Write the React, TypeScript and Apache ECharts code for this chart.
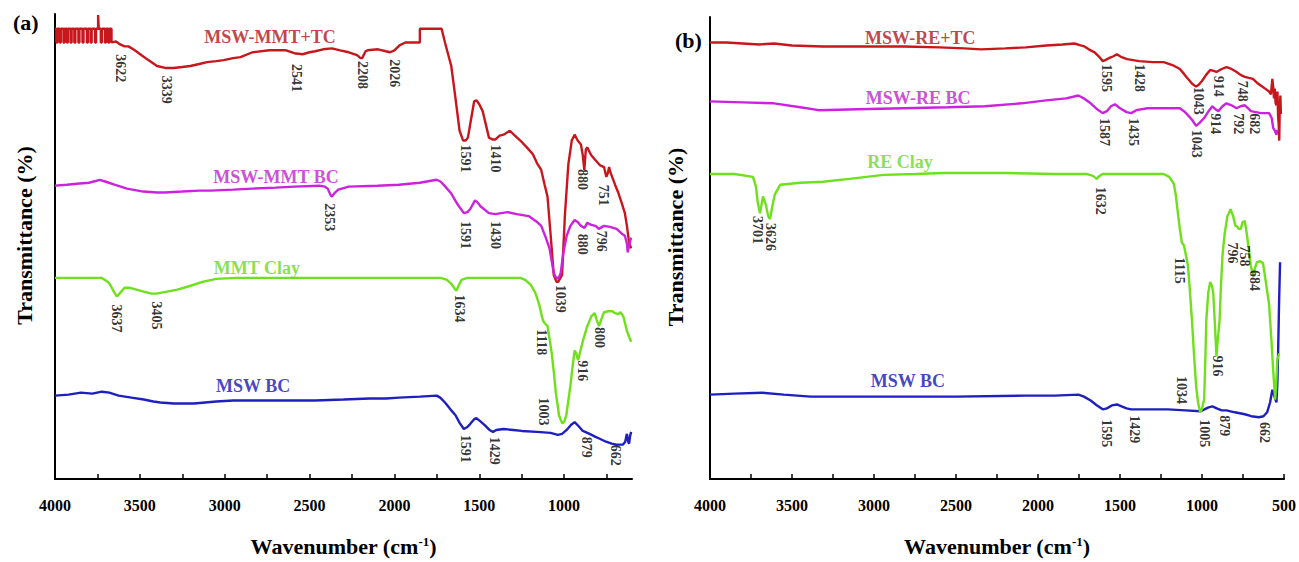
import React, { useEffect, useRef } from "react";
import * as echarts from "echarts";

type P = [number, number];

// ---------- Panel (a) spectra: [wavenumber, transmittance (arb. offset units)] ----------
const mswMmtTc: P[] = [
  [4000, 459], [3992, 459], [3992, 445], [3986, 445], [3986, 459], [3972, 459], [3972, 445], [3966, 445], [3966, 459],
  [3950, 459], [3950, 445], [3944, 445], [3944, 459], [3930, 459], [3930, 445], [3924, 445], [3924, 459],
  [3908, 459], [3908, 445], [3902, 445], [3902, 459], [3886, 459], [3886, 445], [3880, 445], [3880, 459],
  [3862, 459], [3862, 445], [3856, 445], [3856, 459], [3838, 459], [3838, 445], [3832, 445], [3832, 459],
  [3812, 459], [3812, 445], [3806, 445], [3806, 459], [3790, 459], [3790, 445], [3784, 445], [3784, 459],
  [3764, 459], [3764, 445], [3758, 445], [3758, 459], [3746, 459], [3746, 473], [3742, 473], [3742, 459],
  [3730, 459], [3730, 445], [3724, 445], [3724, 459], [3706, 459], [3706, 445], [3700, 445], [3700, 459],
  [3686, 459], [3686, 445], [3680, 445], [3680, 459], [3667, 459], [3667, 445],
  [3640, 446], [3616, 443], [3590, 441], [3567, 441], [3530, 437], [3498, 433], [3450, 427], [3399, 421],
  [3350, 419], [3301, 419], [3250, 420], [3203, 421], [3150, 423], [3104, 425], [3050, 426], [3006, 427],
  [2950, 429], [2907, 430], [2836, 435], [2738, 437], [2639, 437], [2590, 434], [2541, 433], [2500, 435],
  [2467, 436], [2420, 438], [2368, 439], [2320, 437], [2269, 435], [2220, 432], [2200, 429], [2190, 429],
  [2170, 436], [2158, 437], [2097, 438], [2050, 436], [2026, 435], [2000, 437], [1970, 442], [1936, 445],
  [1850, 445], [1850, 459], [1722, 459], [1702, 445], [1665, 421], [1640, 388], [1616, 355], [1595, 345],
  [1580, 345], [1567, 348], [1545, 370], [1530, 385], [1517, 386], [1500, 382], [1480, 375], [1443, 348],
  [1420, 346], [1406, 346], [1380, 350], [1357, 351], [1320, 355], [1290, 350], [1258, 345], [1220, 338],
  [1184, 331], [1160, 322], [1135, 315], [1115, 300], [1098, 288], [1080, 250], [1061, 208], [1045, 201],
  [1035, 201], [1012, 208], [995, 270], [975, 321], [955, 345], [938, 351], [920, 345], [901, 341],
  [890, 330], [881, 315], [872, 336], [864, 338], [840, 330], [815, 325], [790, 320], [765, 318], [751, 308],
  [742, 312], [735, 318], [728, 313], [700, 300], [679, 291], [660, 281], [642, 271], [630, 258], [617, 241],
  [605, 235],
];

const mswMmtBc: P[] = [
  [4000, 299], [3930, 300], [3872, 301], [3800, 302], [3736, 305], [3700, 303], [3650, 300], [3576, 296],
  [3480, 293], [3400, 292], [3354, 292], [3250, 293], [3150, 294], [3083, 294], [2950, 295], [2836, 296],
  [2700, 297], [2590, 298], [2442, 299], [2410, 298], [2393, 296], [2375, 289], [2368, 288], [2350, 292],
  [2331, 295], [2269, 298], [2100, 299], [1973, 300], [1850, 302], [1751, 305], [1727, 303], [1700, 298],
  [1665, 291], [1628, 280], [1591, 271], [1570, 272], [1554, 275], [1525, 284], [1510, 282], [1493, 278],
  [1443, 271], [1406, 270], [1370, 271], [1332, 272], [1280, 270], [1209, 268], [1160, 262], [1135, 258],
  [1110, 247], [1086, 235], [1061, 210], [1050, 206], [1035, 204], [1020, 210], [1005, 230], [985, 248],
  [963, 258], [938, 264], [920, 262], [901, 258], [880, 256], [864, 261], [840, 259], [815, 258], [796, 255],
  [765, 258], [730, 257], [691, 255], [660, 250], [642, 248], [630, 240], [625, 231], [615, 240], [605, 246],
];

const mmtClay: P[] = [
  [4000, 205], [3800, 205], [3724, 205], [3690, 201], [3675, 198], [3650, 190], [3635, 186], [3615, 190],
  [3590, 195], [3564, 195], [3520, 193], [3477, 191], [3430, 189], [3403, 189], [3340, 191], [3280, 193],
  [3200, 197], [3132, 201], [3050, 204], [2935, 205], [2500, 205], [2000, 205], [1727, 205], [1690, 203],
  [1665, 199], [1645, 194], [1635, 192], [1622, 197], [1604, 203], [1570, 205], [1258, 205], [1230, 203],
  [1197, 198], [1170, 190], [1147, 178], [1130, 165], [1123, 161], [1110, 158], [1098, 156], [1085, 142],
  [1073, 128], [1060, 108], [1049, 88], [1030, 65], [1012, 57], [1000, 58], [987, 65], [975, 80], [963, 95],
  [950, 115], [938, 131], [928, 128], [918, 121], [905, 130], [889, 141], [865, 155], [839, 166], [820, 169],
  [808, 162], [795, 156], [780, 163], [765, 170], [740, 171], [716, 171], [700, 169], [679, 168], [667, 170],
  [650, 165], [640, 158], [630, 151], [615, 144], [605, 140],
];

const mswBcA: P[] = [
  [4000, 85], [3920, 86], [3847, 88], [3780, 87], [3724, 89], [3680, 88], [3625, 85], [3550, 83], [3477, 81],
  [3420, 79], [3379, 78], [3300, 77], [3181, 77], [3050, 79], [2950, 80], [2836, 80], [2650, 80], [2467, 80],
  [2300, 81], [2146, 82], [2050, 82], [1973, 83], [1850, 84], [1751, 85], [1730, 83], [1702, 78], [1670, 71],
  [1640, 65], [1615, 57], [1591, 51], [1570, 53], [1554, 56], [1530, 61], [1517, 62], [1495, 59], [1468, 55],
  [1440, 50], [1419, 48], [1400, 50], [1357, 51], [1300, 50], [1250, 49], [1160, 48], [1080, 47], [1037, 45],
  [1012, 46], [985, 50], [960, 55], [938, 58], [910, 53], [890, 49], [876, 48], [850, 46], [815, 43], [790, 41],
  [753, 38], [720, 36], [691, 35], [654, 35], [640, 38], [630, 46], [622, 38], [617, 36], [611, 44], [605, 48],
];

// ---------- Panel (b) spectra ----------
const mswReTc: P[] = [
  [4000, 445], [3900, 445], [3800, 444], [3700, 443], [3609, 444], [3500, 442], [3312, 441], [3100, 441],
  [2817, 441], [2600, 440], [2450, 439], [2347, 438], [2200, 439], [2075, 440], [1950, 442], [1850, 443],
  [1778, 444], [1740, 442], [1717, 441], [1690, 438], [1655, 435], [1625, 430], [1605, 426], [1590, 427],
  [1568, 429], [1540, 431], [1519, 433], [1490, 430], [1457, 428], [1420, 427], [1383, 426], [1300, 425],
  [1234, 425], [1180, 422], [1135, 418], [1110, 413], [1086, 408], [1060, 403], [1036, 400], [1020, 402],
  [999, 406], [975, 412], [950, 417], [930, 416], [912, 415], [880, 418], [851, 420], [820, 418], [789, 415],
  [765, 412], [739, 410], [715, 409], [690, 408], [665, 404], [640, 401], [615, 398], [591, 395], [580, 392],
  [571, 408], [566, 400], [561, 388], [556, 398], [551, 383], [546, 381], [540, 395], [536, 370], [532, 360],
  [529, 345], [526, 378], [522, 391], [519, 372],
];

const mswReBc: P[] = [
  [4000, 385], [3800, 384], [3609, 383], [3450, 379], [3337, 376], [3100, 377], [2817, 378], [2550, 379],
  [2323, 380], [2100, 383], [1950, 386], [1828, 388], [1754, 391], [1720, 388], [1679, 383], [1640, 377],
  [1605, 373], [1580, 375], [1555, 380], [1531, 382], [1500, 378], [1460, 374], [1432, 373], [1400, 376],
  [1333, 378], [1200, 378], [1135, 378], [1110, 375], [1086, 371], [1060, 366], [1036, 360], [1015, 363],
  [987, 368], [960, 375], [937, 380], [918, 377], [900, 375], [875, 380], [851, 383], [820, 381], [789, 378],
  [765, 380], [739, 381], [720, 378], [702, 375], [670, 374], [640, 373], [615, 373], [591, 373], [575, 368],
  [566, 358], [556, 355], [546, 351], [540, 356],
];

const reClay: P[] = [
  [4000, 311], [3850, 311], [3738, 308], [3720, 298], [3708, 281], [3695, 271], [3677, 288], [3660, 280],
  [3645, 268], [3634, 265], [3620, 278], [3605, 290], [3585, 296], [3572, 300], [3450, 302], [3312, 303],
  [3150, 306], [2941, 310], [2750, 311], [2570, 312], [2200, 312], [1900, 311], [1704, 311], [1665, 309],
  [1642, 306], [1625, 309], [1605, 311], [1400, 311], [1234, 311], [1200, 308], [1172, 301], [1160, 290],
  [1147, 271], [1135, 255], [1123, 241], [1110, 238], [1098, 228], [1086, 218], [1073, 190], [1061, 161],
  [1048, 125], [1036, 95], [1024, 78], [1011, 68], [1000, 72], [987, 81], [980, 120], [974, 161], [962, 190],
  [950, 201], [940, 197], [932, 191], [922, 160], [912, 125], [905, 140], [893, 161], [885, 195], [875, 228],
  [862, 250], [845, 268], [826, 275], [810, 268], [796, 258], [789, 258], [776, 255], [764, 255], [752, 262],
  [739, 263], [727, 250], [715, 235], [703, 218], [690, 208], [677, 215], [665, 221], [645, 222], [628, 220],
  [610, 200], [591, 178], [578, 145], [566, 111], [554, 81], [548, 95], [541, 121], [535, 125], [529, 128],
];

const mswBcB: P[] = [
  [4000, 86], [3850, 87], [3683, 88], [3550, 86], [3386, 84], [3100, 84], [2817, 84], [2500, 84], [2075, 85],
  [1900, 85], [1754, 86], [1720, 84], [1679, 80], [1640, 75], [1605, 71], [1580, 72], [1550, 75], [1519, 76],
  [1490, 74], [1460, 72], [1432, 71], [1400, 71], [1300, 71], [1209, 71], [1100, 70], [1011, 69], [985, 71],
  [960, 73], [937, 74], [910, 72], [880, 70], [851, 70], [800, 68], [739, 66], [700, 64], [653, 63], [625, 64],
  [603, 68], [585, 78], [571, 91], [560, 85], [550, 80], [546, 78], [540, 100], [536, 128], [530, 180], [524, 221],
];

// ---------- Peak annotations: [text, wavenumber, top of label (data units)] ----------
const peaksA: [string, number, number][] = [
  ["3622", 3615, 433], ["3339", 3342, 411], ["2541", 2577, 423], ["2208", 2190, 426], ["2026", 1998, 428],
  ["1591", 1579, 341], ["1410", 1406, 341], ["880", 889, 316], ["751", 765, 300],
  ["2353", 2380, 281], ["1591", 1584, 263], ["1430", 1406, 263], ["880", 894, 250], ["796", 778, 253],
  ["1039", 1024, 198],
  ["3637", 3638, 178], ["3405", 3403, 181], ["1634", 1616, 188], ["1118", 1135, 153], ["1003", 1123, 83],
  ["916", 894, 121], ["800", 790, 155],
  ["1591", 1584, 45], ["1429", 1411, 43], ["879", 869, 43], ["662", 696, 35],
];

const peaksB: [string, number, number][] = [
  ["1595", 1580, 423], ["1428", 1383, 423], ["1043", 1024, 400], ["914", 900, 411], ["748", 752, 406],
  ["1587", 1593, 368], ["1435", 1420, 368], ["1043", 1036, 356], ["914", 917, 373], ["792", 776, 373],
  ["682", 677, 373],
  ["3701", 3708, 268], ["3626", 3634, 261], ["1632", 1618, 298], ["1115", 1135, 226], ["796", 813, 241],
  ["758", 739, 238], ["684", 682, 213], ["916", 907, 126], ["1034", 1123, 105], ["1005", 987, 61],
  ["879", 863, 65], ["662", 616, 58],
  ["1595", 1585, 61], ["1429", 1412, 65],
];

// ---------- Series names placed as in figure: [text, wavenumber, value, color] ----------
const namesA: [string, number, number, string][] = [
  ["MSW-MMT+TC", 2733, 451, "#b0141a"],
  ["MSW-MMT BC", 2698, 308, "#c020d0"],
  ["MMT Clay", 2810, 215, "#6cd81e"],
  ["MSW BC", 2833, 95, "#1414b4"],
];
const namesB: [string, number, number, string][] = [
  ["MSW-RE+TC", 2718, 450, "#b0141a"],
  ["MSW-RE BC", 2731, 388, "#c020d0"],
  ["RE Clay", 2842, 323, "#6cd81e"],
  ["MSW BC", 2793, 100, "#1414b4"],
];

const tickLabels = [4000, 3500, 3000, 2500, 2000, 1500, 1000, 500];
const ticksAll = [4000, 3750, 3500, 3250, 3000, 2750, 2500, 2250, 2000, 1750, 1500, 1250, 1000, 750, 500];

const RED = "#c8161d";
const MAG = "#cc22dd";
const GRN = "#6ee01c";
const BLU = "#1f1fc0";

const SERIF = '"Liberation Serif", "Times New Roman", serif';

function xAxis(idx: number, min: number) {
  return {
    type: "value",
    gridIndex: idx,
    min,
    max: 4000,
    inverse: true,
    axisLine: { show: true, onZero: false, lineStyle: { color: "#000", width: 2 } },
    axisTick: {
      show: true,
      inside: true,
      length: 5,
      customValues: ticksAll.filter((t) => t >= min),
      lineStyle: { color: "#000", width: 1.5 },
    },
    axisLabel: {
      customValues: tickLabels.filter((t) => t >= min),
      formatter: (v: number) => String(v),
      fontFamily: SERIF,
      fontWeight: "bold",
      fontSize: 16,
      color: "#000",
      margin: 18,
    },
    splitLine: { show: false },
    name: "Wavenumber (cm{sup|-1})",
    nameLocation: "middle",
    nameGap: 56,
    nameTextStyle: {
      fontFamily: SERIF,
      fontWeight: "bold",
      fontSize: 22,
      color: "#000",
      rich: {
        sup: { fontFamily: SERIF, fontWeight: "bold", fontSize: 13, color: "#000", verticalAlign: "top" },
      },
    },
  };
}

function yAxis(idx: number, max: number, gap: number) {
  return {
    type: "value",
    gridIndex: idx,
    min: 0,
    max,
    axisLine: { show: true, onZero: false, lineStyle: { color: "#000", width: 2 } },
    axisTick: { show: false },
    axisLabel: { show: false },
    splitLine: { show: false },
    name: "Transmittance (%)",
    nameLocation: "middle",
    nameRotate: 90,
    nameGap: gap,
    nameTextStyle: {
      fontFamily: SERIF,
      fontWeight: "bold",
      fontSize: 22,
      color: "#000",
      padding: [0, 0, 0, 22],
    },
  };
}

function lineSeries(idx: number, data: P[], color: string) {
  return {
    type: "line",
    xAxisIndex: idx,
    yAxisIndex: idx,
    data,
    showSymbol: false,
    symbol: "none",
    silent: true,
    lineStyle: { color, width: 2.4 },
    z: 2,
  };
}

function peakSeries(idx: number, peaks: [string, number, number][]) {
  return {
    type: "scatter",
    xAxisIndex: idx,
    yAxisIndex: idx,
    symbolSize: 1,
    silent: true,
    itemStyle: { color: "rgba(255,255,255,0)" },
    z: 5,
    data: peaks.map(([t, v, y]) => ({ name: t, value: [v, y] })),
    label: {
      show: true,
      formatter: "{b}",
      position: "inside",
      rotate: -90,
      align: "left",
      verticalAlign: "middle",
      fontFamily: SERIF,
      fontWeight: 700,
      fontSize: 14,
      color: "#000",
      textBorderWidth: 0,
      textBorderColor: "transparent",
    },
  };
}

function nameSeries(idx: number, names: [string, number, number, string][]) {
  return {
    type: "scatter",
    xAxisIndex: idx,
    yAxisIndex: idx,
    symbolSize: 1,
    silent: true,
    itemStyle: { color: "rgba(255,255,255,0)" },
    z: 6,
    data: names.map(([t, v, y, c]) => ({ name: t, value: [v, y], label: { color: c } })),
    label: {
      show: true,
      formatter: "{b}",
      position: "inside",
      align: "center",
      verticalAlign: "middle",
      fontFamily: SERIF,
      fontWeight: 700,
      fontSize: 18,
      textBorderWidth: 0,
      textBorderColor: "transparent",
    },
  };
}

export default function App() {
  const ref = useRef<HTMLDivElement>(null);
  useEffect(() => {
    if (!ref.current) return;
    const chart = echarts.init(ref.current, null, { renderer: "svg" });
    chart.setOption({
      animation: false,
      backgroundColor: "#ffffff",
      grid: [
        { left: 55, top: 14, width: 577, height: 474 },
        { left: 710, top: 17, width: 574, height: 471 },
      ],
      xAxis: [xAxis(0, 600), xAxis(1, 500)],
      yAxis: [yAxis(0, 474, 20), yAxis(1, 471, 24)],
      graphic: [
        { type: "text", left: 13, top: 11, style: { text: "(a)", fontFamily: SERIF, fontWeight: "bold", fontSize: 22, fill: "#000" } },
        { type: "text", left: 675, top: 29, style: { text: "(b)", fontFamily: SERIF, fontWeight: "bold", fontSize: 22, fill: "#000" } },
      ],
      series: [
        lineSeries(0, mswBcA, BLU),
        lineSeries(0, mmtClay, GRN),
        lineSeries(0, mswMmtTc, RED),
        lineSeries(0, mswMmtBc, MAG),
        lineSeries(1, mswBcB, BLU),
        lineSeries(1, reClay, GRN),
        lineSeries(1, mswReTc, RED),
        lineSeries(1, mswReBc, MAG),
        peakSeries(0, peaksA),
        peakSeries(1, peaksB),
        nameSeries(0, namesA),
        nameSeries(1, namesB),
      ],
    });
    return () => chart.dispose();
  }, []);
  return (
    <div
      ref={ref}
      style={{ position: "fixed", left: 0, top: 0, width: 1299, height: 562, background: "#fff" }}
    />
  );
}
